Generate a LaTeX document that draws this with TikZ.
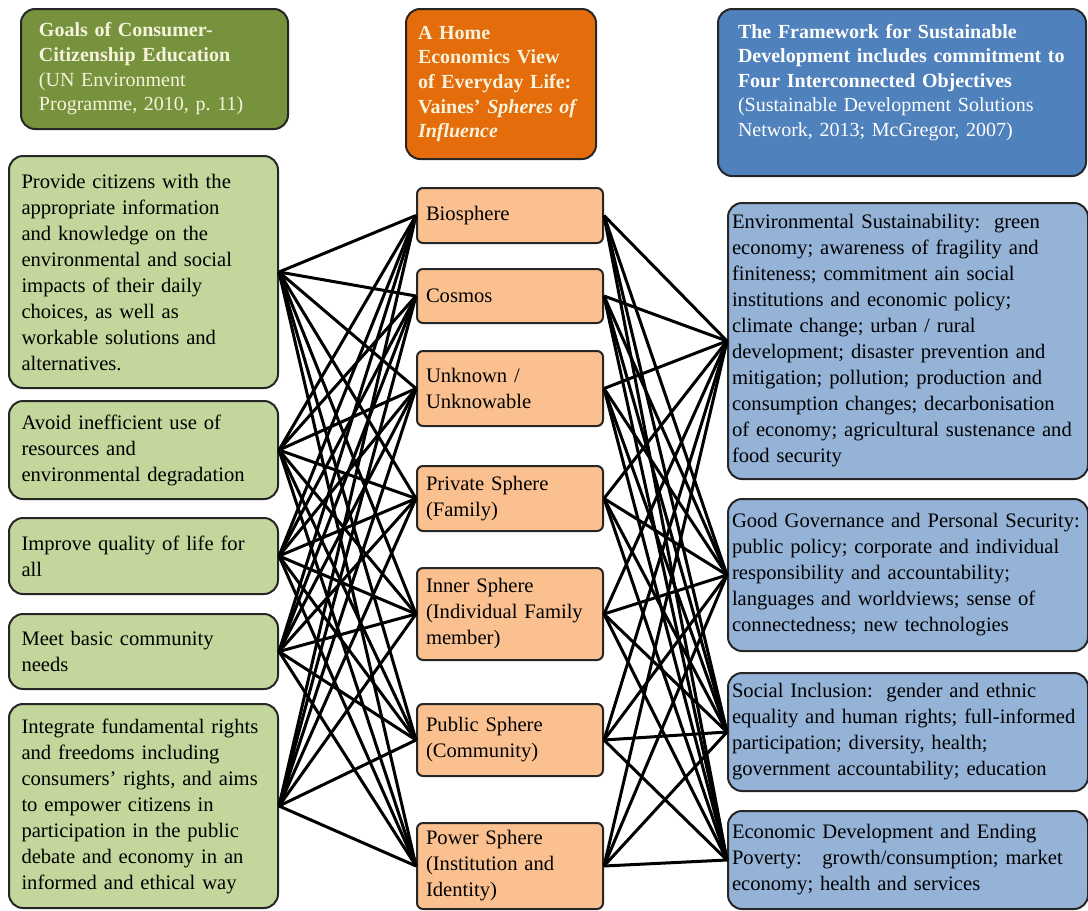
\documentclass[tikz,border=0pt]{standalone}
\usepackage{fontspec}
\setmainfont{Liberation Serif}
\definecolor{goalhead}{RGB}{118,146,60}
\definecolor{goalfill}{RGB}{195,214,155}
\definecolor{spherehead}{RGB}{228,108,10}
\definecolor{spherefill}{RGB}{250,192,144}
\definecolor{framehead}{RGB}{79,129,189}
\definecolor{framefill}{RGB}{149,179,215}
\definecolor{headtext}{RGB}{246,243,220}
\tikzset{
    box/.style={draw=black!85, line width=1pt, anchor=north west, align=left,
        inner ysep=2pt, font=\fontsize{10.3}{13}\selectfont},
    head/.style={box, rounded corners=7pt, font=\fontsize{10}{12.3}\selectfont},
    goal/.style={box, fill=goalfill, rounded corners=7pt, text width=122pt, inner xsep=6.25pt},
    sphere/.style={box, fill=spherefill, rounded corners=3pt, text width=84pt, inner xsep=4.5pt},
    frame/.style={box, fill=framefill, rounded corners=7pt, text width=176pt, inner xsep=2pt},
    link/.style={draw=black, line width=1.5pt}
}

\begin{document}
\begin{tikzpicture}[x=0.5pt, y=-0.5pt]
    \useasboundingbox (0,0) rectangle (1088,911);
    % Headers
    \node[head, fill=goalhead, text=headtext, text width=115.5pt, inner xsep=9pt,
        minimum height=60pt](hg) at (20,8)
        {\textbf{Goals of Consumer-}\\ \textbf{Citizenship Education}\\
         (UN Environment\\ Programme, 2010, p.\ 11)};
    \node[head, fill=spherehead, text=headtext, text width=83pt, inner xsep=6pt,
        minimum height=75pt, font=\fontsize{10}{12.3}\selectfont\bfseries](hs) at (405,8)
        {A Home\\ Economics View\\ of Everyday Life:\\ Vaines' \textit{Spheres of}\\ \textit{Influence}};
    \node[head, fill=framehead, text=white, text width=164pt, inner xsep=10pt,
        minimum height=83.5pt](hf) at (717,8)
        {\textbf{The Framework for Sustainable}\\ \textbf{Development includes commitment to}\\
         \textbf{Four Interconnected Objectives}\\ (Sustainable Development Solutions\\
         Network, 2013; McGregor, 2007)\\ \mbox{}};
    % Goals
    \node[goal, minimum height=116pt](g1) at (8,155)
        {Provide citizens with the\\ appropriate information\\ and knowledge on the\\
         environmental and social\\ impacts of their daily\\ choices, as well as\\
         workable solutions and\\ alternatives.};
    \node[goal, minimum height=49pt](g2) at (8,400)
        {Avoid inefficient use of\\ resources and\\ environmental degradation};
    \node[goal, minimum height=38pt](g3) at (8,517)
        {Improve quality of life for\\ all};
    \node[goal, minimum height=37.5pt](g4) at (8,613)
        {Meet basic community\\ needs};
    \node[goal, minimum height=102pt](g5) at (8,703)
        {Integrate fundamental rights\\ and freedoms including\\ consumers' rights, and aims\\
         to empower citizens in\\ participation in the public\\ debate and economy in an\\
         informed and ethical way};
    % Spheres
    \node[sphere, minimum height=27.5pt](s1) at (416,187) {Biosphere};
    \node[sphere, minimum height=27pt](s2)   at (416,268) {Cosmos};
    \node[sphere, minimum height=37.5pt](s3) at (416,350) {Unknown /\\ Unknowable};
    \node[sphere, minimum height=32.5pt](s4) at (416,465) {Private Sphere\\ (Family)};
    \node[sphere, minimum height=46pt](s5)   at (416,567) {Inner Sphere\\ (Individual Family\\ member)};
    \node[sphere, minimum height=36pt](s6)   at (416,703) {Public Sphere\\ (Community)};
    \node[sphere, minimum height=43pt](s7)   at (416,822) {Power Sphere\\ (Institution and\\ Identity)};
    % Objectives
    \node[frame, minimum height=138pt](f1) at (727,202)
        {Environmental Sustainability:\ \ green\\ economy; awareness of fragility and\\
         finiteness; commitment ain social\\ institutions and economic policy;\\
         climate change; urban / rural\\ development; disaster prevention and\\
         mitigation; pollution; production and\\ consumption changes; decarbonisation\\
         of economy; agricultural sustenance and\\ food security};
    \node[frame, minimum height=76pt](f2) at (727,498)
        {Good Governance and Personal Security:\\ public policy; corporate and individual\\
         responsibility and accountability;\\ languages and worldviews; sense of\\
         connectedness; new technologies};
    \node[frame, minimum height=59pt](f3) at (727,672)
        {Social Inclusion:\ \ gender and ethnic\\ equality and human rights; full-informed\\
         participation; diversity, health;\\ government accountability; education};
    \node[frame, minimum height=49pt](f4) at (727,810)
        {Economic Development and Ending\\ Poverty:\ \ \ growth/consumption; market\\
         economy; health and services};
    % Links
    \foreach \g in {1,...,5}
        \foreach \s in {1,...,7}
            \draw[link] (g\g.east) -- (s\s.west);
    \foreach \s in {1,...,7}
        \foreach \f in {1,...,4}
            \draw[link] (s\s.east) -- (f\f.west);
\end{tikzpicture}
\end{document}
